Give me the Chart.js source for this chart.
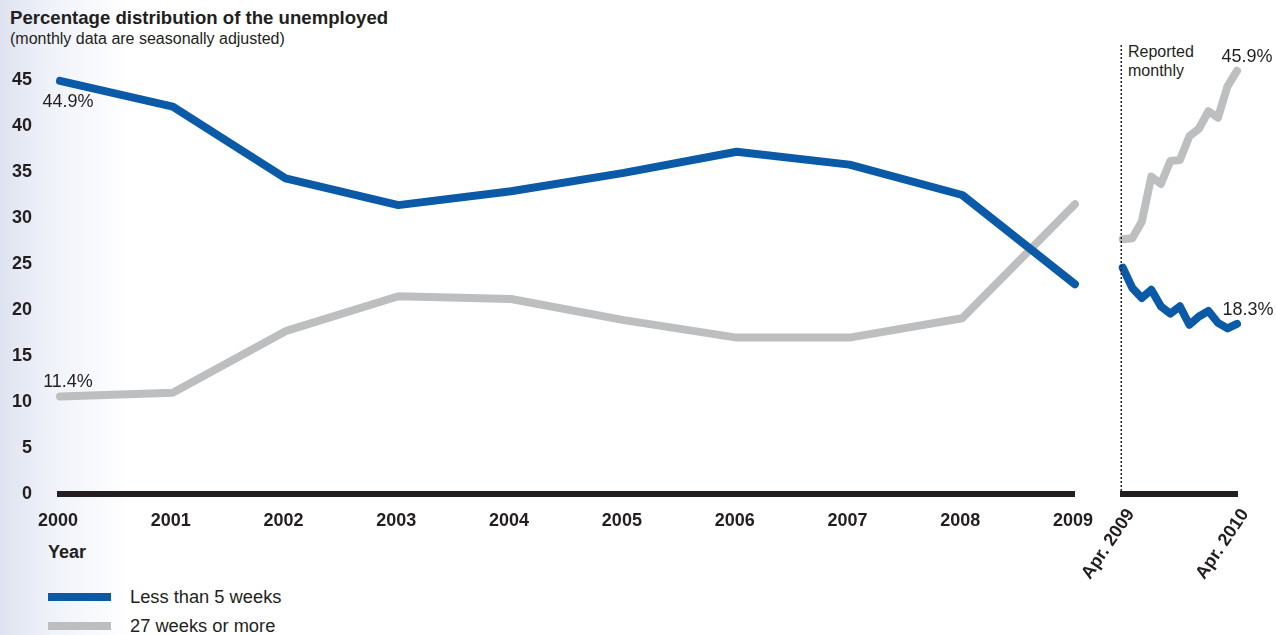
<!DOCTYPE html>
<html lang="en">
<head>
  <meta charset="UTF-8">
  <title>Percentage distribution of the unemployed</title>
  <script src="https://cdn.jsdelivr.net/npm/chart.js"></script>
  <style>
    body {
      margin: 0;
      width: 1277px;
      height: 635px;
      overflow: hidden;
      position: relative;
      font-family: 'Liberation Sans', Arial, sans-serif;
      color: #231f20;
      background: linear-gradient(to right, #dfe3f1 0px, #eff2f9 50px, #ffffff 130px);
    }
    .title { position: absolute; left: 10px; top: 7px; font-size: 18.6px; font-weight: bold; }
    .subtitle { position: absolute; left: 10px; top: 30px; font-size: 16px; }
    .note { position: absolute; left: 1128px; top: 42px; font-size: 16px; line-height: 19px; }
    .year { position: absolute; left: 48px; top: 542px; font-size: 18px; font-weight: bold; }
    .legend { position: absolute; left: 48px; top: 582px; font-size: 18.3px; }
    .legend div { height: 29px; display: flex; align-items: center; }
    .legend span.sw { display: inline-block; width: 63px; height: 8px; margin-right: 19px; }
    canvas { position: absolute; top: 0; }
    #annual { left: 0; }
    #monthly { left: 1067px; }
  </style>
</head>
<body>

<div class="title">Percentage distribution of the unemployed</div>
<div class="subtitle">(monthly data are seasonally adjusted)</div>
<div class="note">Reported<br>monthly</div>
<div class="year">Year</div>
<div class="legend">
  <div><span class="sw" style="background:#0a5aa8"></span>Less than 5 weeks</div>
  <div><span class="sw" style="background:#bdbec0"></span>27 weeks or more</div>
</div>

<canvas id="annual" width="1111" height="540"></canvas>
<canvas id="monthly" width="210" height="600"></canvas>

<script>
  // === Data ===
  const years = ['2000', '2001', '2002', '2003', '2004', '2005', '2006', '2007', '2008', '2009'];
  const shortAnnual = [44.9, 42.1, 34.3, 31.4, 32.9, 34.9, 37.2, 35.8, 32.5, 22.8];
  const longAnnual = [10.6, 11.0, 17.7, 21.5, 21.2, 18.9, 17.0, 17.0, 19.1, 31.5];

  const months = ['Apr. 2009', 'May 2009', 'Jun. 2009', 'Jul. 2009', 'Aug. 2009', 'Sep. 2009',
    'Oct. 2009', 'Nov. 2009', 'Dec. 2009', 'Jan. 2010', 'Feb. 2010', 'Mar. 2010', 'Apr. 2010'];
  const shortMonthly = [24.6, 22.4, 21.3, 22.2, 20.4, 19.6, 20.4, 18.4, 19.3, 19.9, 18.6, 18.0, 18.5];
  const longMonthly = [27.7, 27.8, 29.6, 34.5, 33.7, 36.2, 36.3, 38.9, 39.7, 41.6, 40.9, 44.3, 46.0];

  const yTicks = [0, 5, 10, 15, 20, 25, 30, 35, 40, 45];

  const BLUE = '#0a5aa8';
  const GREY = '#bdbec0';
  const INK = '#231f20';

  Chart.defaults.font.family = "'Liberation Sans', Arial, sans-serif";
  Chart.defaults.color = INK;

  function line(label, data, color) {
    return {
      label: label,
      data: data,
      borderColor: color,
      backgroundColor: color,
      borderWidth: 8,
      borderCapStyle: 'round',
      borderJoinStyle: 'round',
      pointRadius: 0,
      tension: 0,
      clip: false
    };
  }

  // value labels next to chosen points
  const valueLabels = {
    id: 'valueLabels',
    afterDatasetsDraw(chart, args, opts) {
      const ctx = chart.ctx;
      ctx.save();
      ctx.font = '18px "Liberation Sans", Arial, sans-serif';
      ctx.fillStyle = INK;
      ctx.textAlign = 'center';
      ctx.textBaseline = 'middle';
      (opts.items || []).forEach(it => {
        const pt = chart.getDatasetMeta(it.ds).data[it.i];
        ctx.fillText(it.text, pt.x + it.dx, pt.y + it.dy);
      });
      ctx.restore();
    }
  };

  // dotted divider in front of the monthly part
  const divider = {
    id: 'divider',
    afterDraw(chart, args, opts) {
      if (!opts.show) return;
      const ctx = chart.ctx;
      const a = chart.chartArea;
      ctx.save();
      ctx.strokeStyle = INK;
      ctx.lineWidth = 1.5;
      ctx.setLineDash([2, 2]);
      ctx.beginPath();
      ctx.moveTo(a.left - 1.5, 45);
      ctx.lineTo(a.left - 1.5, a.bottom);
      ctx.stroke();
      ctx.restore();
    }
  };

  const yScale = (show) => ({
    display: show,
    min: 0,
    max: 45,
    afterBuildTicks: s => { s.ticks = yTicks.map(v => ({ value: v })); },
    afterFit: s => { if (show) s.width = 60; },
    grid: { display: false, drawTicks: false },
    border: { display: false },
    ticks: { padding: 28, font: { size: 18, weight: 'bold' }, color: INK }
  });

  // === Annual Chart ===
  new Chart(document.getElementById('annual'), {
    type: 'line',
    data: {
      labels: years,
      datasets: [line('Less than 5 weeks', shortAnnual, BLUE), line('27 weeks or more', longAnnual, GREY)]
    },
    plugins: [valueLabels, divider],
    options: {
      responsive: false,
      animation: false,
      layout: { padding: { top: 80, right: 25, left: 0, bottom: 0 } },
      plugins: {
        legend: { display: false },
        tooltip: { enabled: false },
        valueLabels: { items: [
          { ds: 0, i: 0, text: '44.9%', dx: 8, dy: 21 },
          { ds: 1, i: 0, text: '11.4%', dx: 8, dy: -14 }
        ] },
        divider: { show: false }
      },
      scales: {
        x: {
          offset: false,
          afterFit: s => { s.height = 46; },
          grid: { display: false, drawTicks: false },
          border: { display: true, color: INK, width: 6 },
          ticks: { padding: 16, labelOffset: -2, maxRotation: 0, autoSkip: false, font: { size: 18, weight: 'bold' }, color: INK }
        },
        y: yScale(true)
      }
    }
  });

  // === Monthly Chart ===
  new Chart(document.getElementById('monthly'), {
    type: 'line',
    data: {
      labels: months,
      datasets: [line('Less than 5 weeks', shortMonthly, BLUE), line('27 weeks or more', longMonthly, GREY)]
    },
    plugins: [valueLabels, divider],
    options: {
      responsive: false,
      animation: false,
      layout: { padding: { top: 80, right: 40, left: 52, bottom: 0 } },
      plugins: {
        legend: { display: false },
        tooltip: { enabled: false },
        valueLabels: { items: [
          { ds: 1, i: 12, text: '45.9%', dx: 10, dy: -14 },
          { ds: 0, i: 12, text: '18.3%', dx: 11, dy: -14 }
        ] },
        divider: { show: true }
      },
      scales: {
        x: {
          offset: false,
          afterFit: s => { s.height = 106; },
          grid: { display: false, drawTicks: false },
          border: { display: true, color: INK, width: 6 },
          ticks: {
            padding: 11,
            labelOffset: 8,
            autoSkip: false,
            minRotation: 56,
            maxRotation: 56,
            font: { size: 18, weight: 'bold' },
            color: INK,
            callback: function (v, i) { return (i === 0 || i === months.length - 1) ? months[i] : ''; }
          }
        },
        y: yScale(false)
      }
    }
  });
</script>

</body>
</html>
